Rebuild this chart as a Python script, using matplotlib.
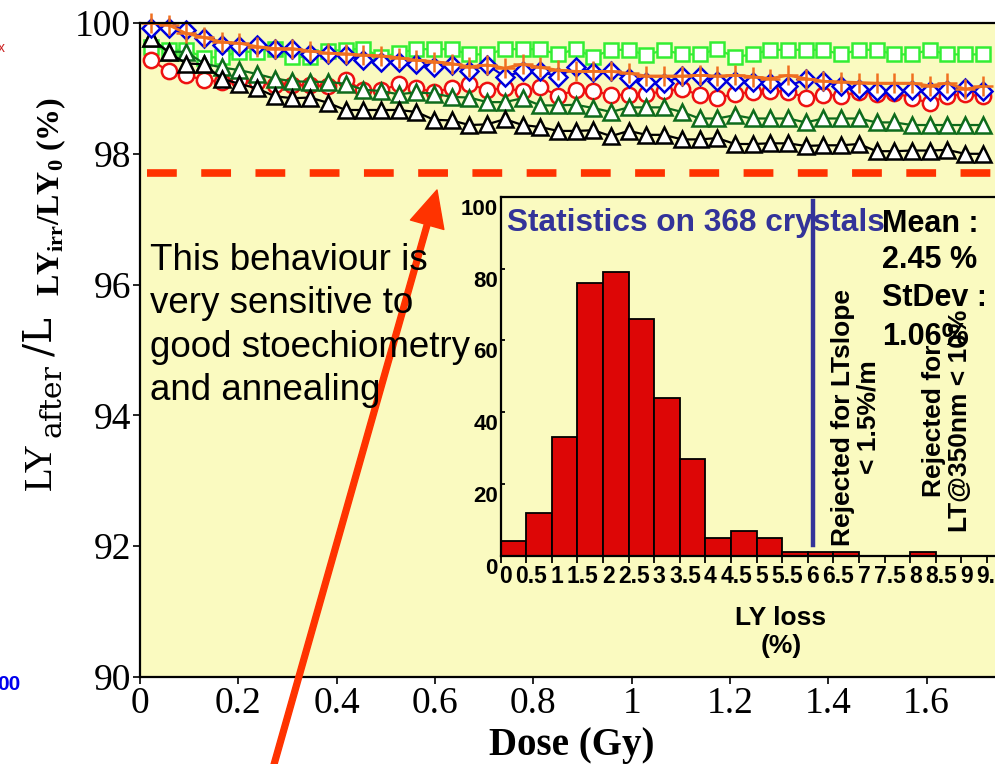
import matplotlib
matplotlib.use('Agg')
import matplotlib.pyplot as plt
import matplotlib.transforms as mtransforms
from matplotlib.patches import Rectangle

plt.rcParams['mathtext.fontset'] = 'custom'
plt.rcParams['mathtext.rm'] = 'Liberation Serif'
plt.rcParams['mathtext.it'] = 'Liberation Serif:italic'
plt.rcParams['mathtext.bf'] = 'Liberation Serif:bold'

# ---- data: LY after irradiation vs dose (six crystals) ----
dose = [0.022, 0.058, 0.094, 0.130, 0.166, 0.202, 0.238, 0.274, 0.310, 0.346,
        0.382, 0.418, 0.454, 0.490, 0.526, 0.562, 0.598, 0.634, 0.670, 0.706,
        0.742, 0.778, 0.814, 0.850, 0.886, 0.922, 0.958, 0.994, 1.030, 1.066,
        1.102, 1.138, 1.174, 1.210, 1.246, 1.282, 1.318, 1.354, 1.390, 1.426,
        1.462, 1.498, 1.534, 1.570, 1.606, 1.642, 1.678, 1.714]

ly_lime = [99.64, 99.59, 99.59, 99.47, 99.48, 99.56, 99.56, 99.61, 99.48, 99.48,
           99.57, 99.59, 99.61, 99.48, 99.54, 99.60, 99.60, 99.60, 99.52, 99.52,
           99.60, 99.60, 99.60, 99.52, 99.60, 99.48, 99.59, 99.59, 99.51, 99.59,
           99.52, 99.52, 99.60, 99.48, 99.52, 99.59, 99.59, 99.59, 99.59, 99.52,
           99.59, 99.59, 99.52, 99.52, 99.59, 99.52, 99.52, 99.52]
ly_red = [99.44, 99.26, 99.20, 99.13, 99.10, 99.13, 99.10, 99.05, 99.05, 99.05,
          99.03, 99.13, 98.97, 98.97, 99.06, 99.00, 98.95, 99.00, 99.06, 98.98,
          99.00, 98.96, 99.02, 98.89, 98.97, 98.96, 98.90, 98.90, 98.91, 98.96,
          98.99, 98.90, 98.86, 98.91, 98.95, 98.96, 98.95, 98.86, 98.90, 98.89,
          98.94, 98.92, 98.93, 98.86, 98.77, 98.89, 98.91, 98.88]
ly_dkgreen = [99.77, 99.56, 99.56, 99.38, 99.32, 99.28, 99.22, 99.15, 99.11, 99.10,
              99.10, 99.07, 98.98, 98.96, 98.91, 98.94, 98.92, 98.87, 98.86, 98.79,
              98.79, 98.85, 98.74, 98.74, 98.75, 98.70, 98.64, 98.71, 98.71, 98.71,
              98.64, 98.54, 98.54, 98.59, 98.54, 98.54, 98.54, 98.48, 98.54, 98.54,
              98.54, 98.48, 98.48, 98.44, 98.44, 98.44, 98.44, 98.44]
ly_black = [99.77, 99.55, 99.38, 99.37, 99.15, 99.07, 99.00, 98.88, 98.85, 98.86,
            98.78, 98.67, 98.67, 98.67, 98.67, 98.64, 98.52, 98.51, 98.44, 98.45,
            98.53, 98.44, 98.41, 98.35, 98.35, 98.36, 98.27, 98.35, 98.29, 98.29,
            98.22, 98.22, 98.24, 98.15, 98.15, 98.16, 98.16, 98.12, 98.13, 98.13,
            98.15, 98.04, 98.04, 98.05, 98.05, 98.06, 98.00, 98.00]
ly_blue = [99.92, 99.93, 99.89, 99.77, 99.67, 99.65, 99.66, 99.61, 99.61, 99.52,
           99.52, 99.51, 99.43, 99.41, 99.40, 99.38, 99.33, 99.36, 99.26, 99.36,
           99.18, 99.26, 99.26, 99.18, 99.32, 99.25, 99.26, 99.16, 99.10, 99.08,
           99.19, 99.19, 99.11, 99.11, 99.10, 99.08, 99.03, 99.14, 99.11, 99.03,
           98.99, 98.96, 98.96, 98.98, 98.96, 98.98, 99.00, 98.96]
ly_orange = [100.0, 99.97, 99.84, 99.78, 99.71, 99.69, 99.64, 99.61, 99.61, 99.57,
             99.54, 99.53, 99.51, 99.50, 99.47, 99.43, 99.41, 99.38, 99.33, 99.36,
             99.31, 99.37, 99.32, 99.28, 99.26, 99.26, 99.26, 99.23, 99.19, 99.19,
             99.19, 99.20, 99.19, 99.20, 99.18, 99.15, 99.20, 99.15, 99.11, 99.10,
             99.09, 99.08, 99.08, 99.08, 99.04, 99.08, 98.99, 99.03]
limit_ly = 97.7

y_ticks = [90, 92, 94, 96, 98, 100]
x_ticks = [0, 0.2, 0.4, 0.6, 0.8, 1, 1.2, 1.4, 1.6]
x_tick_labels = ['0', '0.2', '0.4', '0.6', '0.8', '1', '1.2', '1.4', '1.6']

# ---- data: histogram of LY loss (inset) ----
bin_left = [0, 0.5, 1, 1.5, 2, 2.5, 3, 3.5, 4, 4.5, 5, 5.5, 6, 6.5, 7, 7.5, 8, 8.5]
bin_count = [4, 12, 33, 76, 79, 66, 44, 27, 5, 7, 5, 1, 1, 1, 0, 0, 1, 0]
hist_ticks = [0, 0.5, 1, 1.5, 2, 2.5, 3, 3.5, 4, 4.5, 5, 5.5, 6, 6.5, 7, 7.5,
              8, 8.5, 9, 9.5]
hist_tick_labels = ['0', '0.5', '1', '1.5', '2', '2.5', '3', '3.5', '4', '4.5',
                    '5', '5.5', '6', '6.5', '7', '7.5', '8', '8.5', '9', '9.5']
hist_y_ticks = [0, 20, 40, 60, 80, 100]
cut_ltslope = 6.1

BG = '#FAFAC0'
RED_ARROW = '#FF3300'
W, H = 1007, 764


def fx(px):
    return px / W


def fy(py):
    return 1 - py / H


fig = plt.figure(figsize=(W / 100, H / 100), dpi=100)
fig.patch.set_facecolor('white')

# main axes
ax = fig.add_axes([fx(140), fy(677), fx(995) - fx(140), fy(23) - fy(677)])
ax.set_facecolor(BG)
ax.set_xlim(0, 1.739)
ax.set_ylim(90, 100)
for s in ['left', 'bottom', 'top']:
    ax.spines[s].set_linewidth(1.6)
ax.spines['right'].set_visible(False)
ax.set_yticks(y_ticks)
ax.set_yticklabels([str(v) for v in y_ticks])
ax.set_xticks(x_ticks)
ax.set_xticklabels(x_tick_labels)
ax.tick_params(direction='out', length=5, width=1.2, labelsize=27, pad=1.5,
               top=False, right=False)
for lbl in ax.get_xticklabels() + ax.get_yticklabels():
    lbl.set_fontfamily('Liberation Serif')

ms_kw = dict(markerfacecolor='white', markeredgewidth=1.8, linewidth=1.6, clip_on=False)
ax.plot(dose, ly_lime, color='#33EE33', marker='s', markersize=10.5, **ms_kw)
ax.plot(dose, ly_red, color='#EE1111', marker='o', markersize=11, **ms_kw)
ax.plot(dose, ly_dkgreen, color='#0E6B1C', marker='^', markersize=11.5, **ms_kw)
ax.plot(dose, ly_black, color='black', marker='^', markersize=11.5, **ms_kw)
ax.plot(dose, ly_blue, color='#0000DD', marker='D', markersize=9, **ms_kw)
ax.plot(dose, ly_orange, color='#F07020', marker='+', markersize=14,
        markeredgewidth=1.8, linewidth=2.0, clip_on=False)

ax.axhline(limit_ly, xmin=0.008, xmax=1, color=RED_ARROW, linewidth=5.5,
           dashes=(3.9, 3.2), solid_capstyle='butt', dash_capstyle='butt')

# note text (anchored at the baseline of its last line)
note = 'This behaviour is\nvery sensitive to\ngood stoechiometry\nand annealing'
fig.text(fx(150), fy(400), note, ha='left', va='baseline', fontsize=26.5,
         family='Liberation Sans', linespacing=1.31, color='black')

# axis labels
fig.text(fx(572), fy(745), 'Dose (Gy)', ha='center', va='center', fontsize=28,
         family='Liberation Serif', weight='bold')
fig.text(fx(41), fy(490), 'LY', rotation=90, ha='center', va='bottom',
         fontsize=28, family='Liberation Serif')
fig.text(fx(53), fy(437), 'after', rotation=90, ha='center', va='bottom',
         fontsize=21.5, family='DejaVu Serif')
fig.text(fx(41), fy(356), '/L', rotation=90, ha='center', va='bottom',
         fontsize=28, family='DejaVu Serif')
fig.text(fx(51), fy(296), r'$\mathbf{LY_{irr}/LY_{0}}$ (%)', rotation=90,
         ha='center', va='bottom', fontsize=23, family='Liberation Serif',
         weight='bold', bbox=dict(facecolor='white', edgecolor='none', pad=2.5))

# fragments at the left edge
fig.text(fx(-3), fy(684), '00', ha='left', va='center', fontsize=15,
         family='Liberation Sans', weight='bold', color='#0000EE')
fig.text(fx(-2), fy(48), 'x', ha='left', va='center', fontsize=10,
         family='Liberation Sans', color='#CC2222')

# inset histogram
ins = fig.add_axes([fx(500.7), fy(555.7), fx(995) - fx(500.7), fy(197) - fy(555.7)])
ins.patch.set_alpha(0)
ins.set_xlim(0, 9.655)
ins.set_ylim(0, 100)
ins.bar(bin_left, bin_count, width=0.5, align='edge', color='#DD0606',
        edgecolor='black', linewidth=1.3)
ins.axvline(cut_ltslope, ymin=0.03, ymax=0.99, color='#333399', linewidth=3.2)
ins.spines['right'].set_visible(False)
for s in ['left', 'bottom', 'top']:
    ins.spines[s].set_linewidth(1.6)
ins.set_xticks(hist_ticks)
ins.set_xticklabels(hist_tick_labels)
ins.set_yticks(hist_y_ticks)
ins.set_yticklabels([str(v) for v in hist_y_ticks])
ins.tick_params(axis='x', direction='out', length=5, width=1.3, labelsize=16.5, pad=2)
ins.tick_params(axis='y', direction='in', length=3, width=1.3, labelsize=16, pad=2)
for lbl in ins.get_xticklabels():
    lbl.set_fontfamily('Liberation Sans')
    lbl.set_fontweight('bold')
    lbl.set_transform(lbl.get_transform() +
                      mtransforms.ScaledTranslation(5 / 100, 0, fig.dpi_scale_trans))
for lbl in ins.get_yticklabels():
    lbl.set_fontfamily('Liberation Sans')
    lbl.set_fontweight('bold')
    lbl.set_transform(lbl.get_transform() +
                      mtransforms.ScaledTranslation(0, -10 / 100, fig.dpi_scale_trans))

sans_b = dict(family='Liberation Sans', weight='bold')
fig.text(fx(781), fy(632), 'LY loss\n(%)', ha='center', va='center', fontsize=19,
         linespacing=1.2, **sans_b)
fig.text(fx(507), fy(231), 'Statistics on 368 crystals', ha='left', va='baseline',
         fontsize=22.8, color='#333399', **sans_b)
for txt, base in [('Mean :', 232), ('2.45 %', 268), ('StDev :', 306), ('1.06%', 345)]:
    fig.text(fx(882), fy(base), txt, ha='left', va='baseline', fontsize=22, **sans_b)
fig.text(fx(856), fy(417), 'Rejected for LTslope\n< 1.5%/m', rotation=90,
         ha='center', va='center', multialignment='center', fontsize=19,
         linespacing=1.1, **sans_b)
fig.text(fx(947), fy(421), 'Rejected for\nLT@350nm < 10%', rotation=90,
         ha='center', va='center', multialignment='center', fontsize=19,
         linespacing=1.1, **sans_b)

# arrow pointing at the limit line
ax.annotate('', xy=(437, H - 190), xycoords='figure pixels',
            xytext=(273, -4), textcoords='figure pixels',
            arrowprops=dict(facecolor=RED_ARROW, edgecolor=RED_ARROW, width=4.2,
                            headwidth=25, headlength=26, shrink=0),
            annotation_clip=False, zorder=10)

# the slide is cut at the right, leave a white strip like the source picture
fig.patches.append(Rectangle((fx(995), 0), 1 - fx(995), 1, transform=fig.transFigure,
                             facecolor='white', edgecolor='none', zorder=100))

fig.savefig('out.png', dpi=100, facecolor='white')
